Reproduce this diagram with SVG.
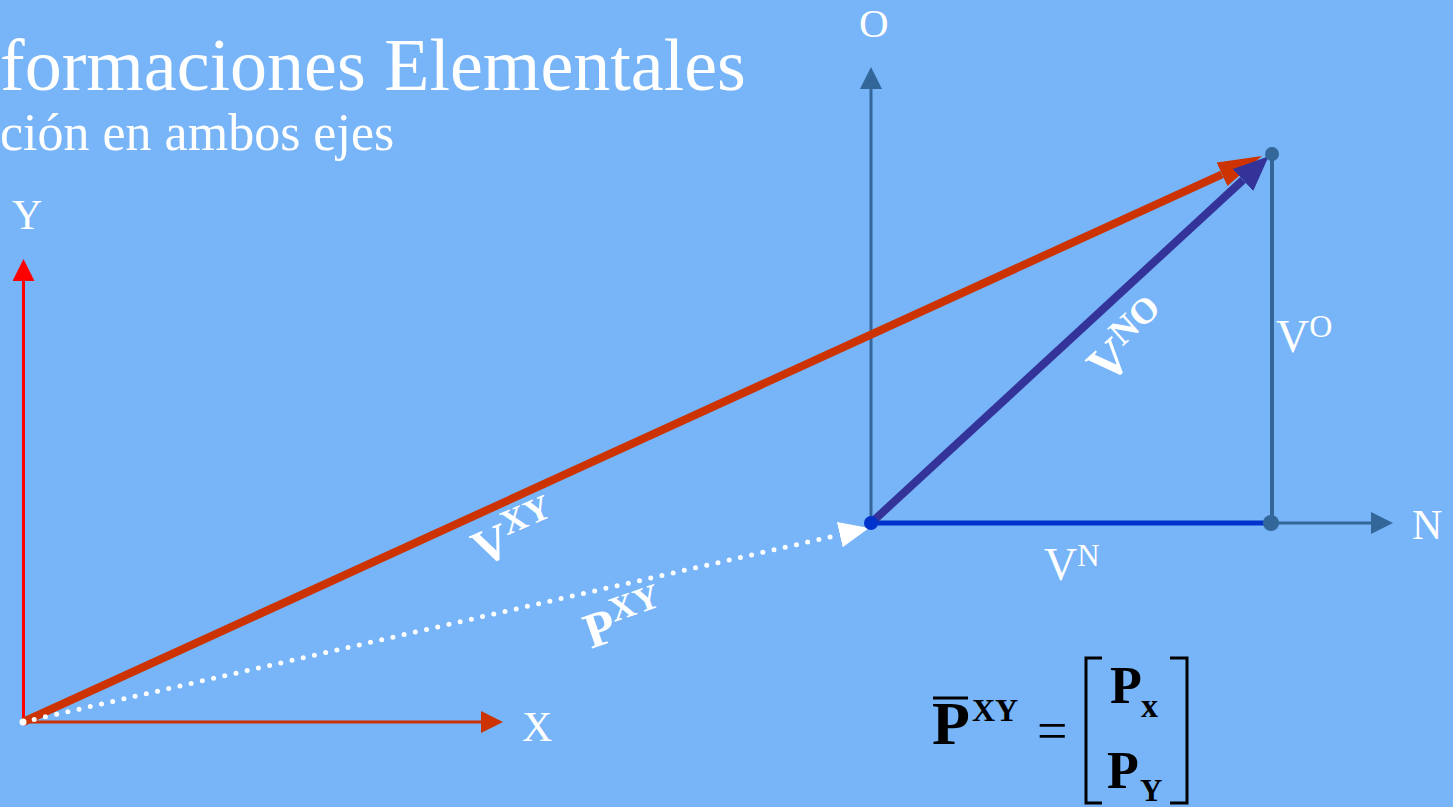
<svg xmlns="http://www.w3.org/2000/svg" width="1453" height="807" viewBox="0 0 1453 807">
<style>
.t{font-family:"Liberation Serif","Times New Roman",serif;fill:#fff}
.b{font-family:"Liberation Serif","Times New Roman",serif;font-weight:bold;fill:#fff}
.k{font-family:"Liberation Serif","Times New Roman",serif;font-weight:bold;fill:#000}
.ax{fill:none;stroke-width:3}
</style>
<defs>
<marker id="hRedAx" markerUnits="userSpaceOnUse" markerWidth="24" markerHeight="24" refX="0" refY="11" orient="auto"><path d="M0,0 L22,11 L0,22 z" fill="#CC3300"/></marker>
<marker id="hYAx" markerUnits="userSpaceOnUse" markerWidth="24" markerHeight="24" refX="0" refY="11" orient="auto"><path d="M0,0 L22,11 L0,22 z" fill="#FF0000"/></marker>
<marker id="hBlueAx" markerUnits="userSpaceOnUse" markerWidth="24" markerHeight="24" refX="0" refY="11" orient="auto"><path d="M0,0 L22,11 L0,22 z" fill="#336699"/></marker>
<marker id="hVxy" markerUnits="userSpaceOnUse" markerWidth="46" markerHeight="28" refX="0" refY="13" orient="auto"><path d="M0,0 L44,13 L0,26 z" fill="#CC3300"/></marker>
<marker id="hVno" markerUnits="userSpaceOnUse" markerWidth="38" markerHeight="32" refX="0" refY="15" orient="auto"><path d="M0,0 L35,15 L0,30 z" fill="#333399"/></marker>
<marker id="hPxy" markerUnits="userSpaceOnUse" markerWidth="32" markerHeight="28" refX="0" refY="13" orient="auto"><path d="M0,0 L30,13 L0,26 z" fill="#FFFFFF"/></marker>
</defs>
<rect width="1453" height="807" fill="#77B5F8"/>
<g id="title">
<text class="t" x="0" y="90" font-size="74">formaciones Elementales</text>
<text class="t" x="0" y="150" font-size="52">ción en ambos ejes</text>
</g>
<g id="connectors">
<line id="axis-y" class="ax" x1="23.5" y1="722" x2="23.5" y2="281" stroke="#FF0000" marker-end="url(#hYAx)"/>
<line id="axis-x" class="ax" x1="23" y1="722" x2="481" y2="722" stroke="#CC3300" marker-end="url(#hRedAx)"/>
<line id="axis-o" class="ax" x1="871" y1="523" x2="871" y2="89" stroke="#336699" marker-end="url(#hBlueAx)"/>
<line id="axis-n" class="ax" x1="1271" y1="523" x2="1371" y2="523" stroke="#336699" marker-end="url(#hBlueAx)"/>
<line id="v-o" x1="1272" y1="154" x2="1272" y2="523" stroke="#336699" stroke-width="4"/>
<line id="v-n" x1="871" y1="523" x2="1271" y2="523" stroke="#0033CC" stroke-width="5"/>
<line id="v-xy" x1="23" y1="722" x2="1222" y2="174.3" stroke="#CC3300" stroke-width="8" marker-end="url(#hVxy)"/>
<line id="p-xy" x1="23" y1="722" x2="839.8" y2="534.7" stroke="#FFFFFF" stroke-width="5" stroke-linecap="round" stroke-dasharray="0 11.5" marker-end="url(#hPxy)"/>
<line id="v-no" x1="871" y1="523" x2="1243" y2="180" stroke="#333399" stroke-width="8" marker-end="url(#hVno)"/>
<circle cx="1272" cy="154" r="7" fill="#336699"/>
<circle cx="1271" cy="523" r="8" fill="#336699"/>
<circle cx="871" cy="523" r="7" fill="#0033CC"/>
<circle cx="23" cy="722" r="3.5" fill="#FFFFFF"/>
</g>
<g id="label-y"><text class="t" x="12" y="229" font-size="42">Y</text></g>
<g id="label-x"><text class="t" x="522" y="741" font-size="42">X</text></g>
<g id="label-o"><text class="t" x="859" y="37" font-size="41">O</text></g>
<g id="label-n"><text class="t" x="1412" y="539" font-size="42">N</text></g>
<g id="label-vo"><text class="t" x="1276" y="352" font-size="46">V<tspan font-size="32" dy="-15">O</tspan></text></g>
<g id="label-vn"><text class="t" x="1044" y="580" font-size="46">V<tspan font-size="31" dy="-14">N</tspan></text></g>
<g id="label-vxy"><text class="b" font-size="50" transform="translate(481,567) rotate(-23)">V<tspan font-size="35" dy="-19">XY</tspan></text></g>
<g id="label-pxy"><text class="b" font-size="50" transform="translate(591,649) rotate(-19)">P<tspan font-size="35" dy="-18">XY</tspan></text></g>
<g id="label-vno"><text class="b" font-size="52" transform="translate(1107,386) rotate(-42)">V<tspan font-size="36" dy="-19">NO</tspan></text></g>
<g id="formula">
<line x1="933" y1="698" x2="968" y2="698" stroke="#000" stroke-width="3"/>
<text class="k" x="932" y="744" font-size="62">P</text>
<text class="k" x="972" y="721" font-size="32">XY</text>
<text x="1037" y="749" font-size="54" font-family="Liberation Serif, serif" fill="#000">=</text>
<path d="M1102,658 H1086 V803 H1102 M1170,658 H1187 V803 H1170" fill="none" stroke="#000" stroke-width="3"/>
<text class="k" x="1110" y="703" font-size="52">P</text>
<text class="k" x="1141" y="717" font-size="34">x</text>
<text class="k" x="1107" y="788" font-size="52">P</text>
<text class="k" x="1140" y="801" font-size="31">Y</text>
</g>
</svg>
